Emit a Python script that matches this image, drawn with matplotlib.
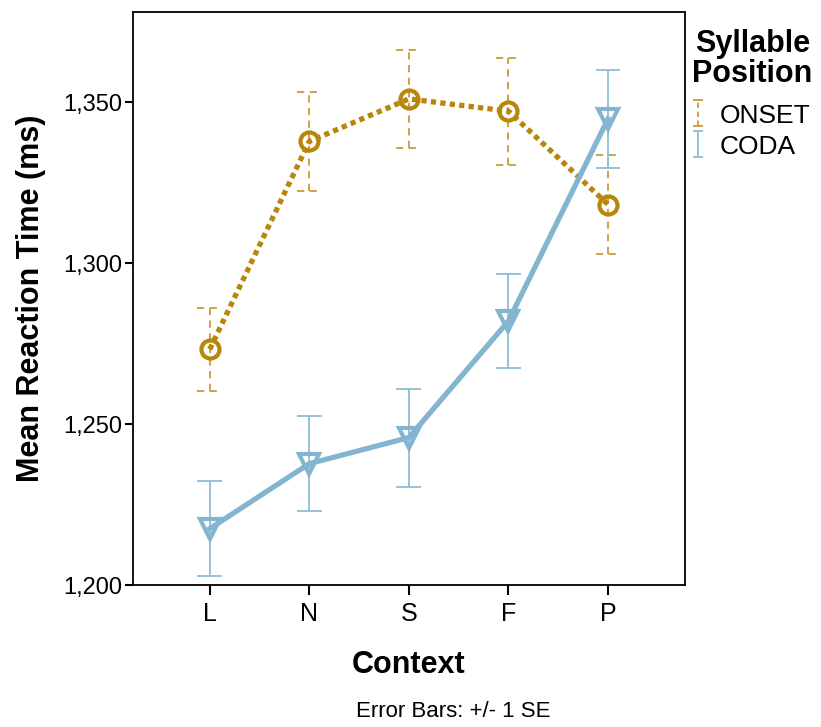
import numpy as np
import matplotlib
matplotlib.use("Agg")
import matplotlib.pyplot as plt

plt.rcParams['font.family'] = ['Liberation Sans', 'DejaVu Sans']

contexts = ["L", "N", "S", "F", "P"]
onset_mean = [1273.2, 1337.8, 1351.0, 1347.2, 1318.2]
onset_se = [12.9, 15.3, 15.3, 16.6, 15.3]
coda_mean = [1217.5, 1237.7, 1245.8, 1282.0, 1344.8]
coda_se = [14.8, 14.7, 15.2, 14.6, 15.3]

onset_col = "#b8860b"
onset_bar = "#c89a3a"
coda_col = "#84b5d0"
coda_bar = "#8fbdd6"
cap_half = 0.125  # half cap width, in category units

fig = plt.figure(figsize=(8.21, 7.27), dpi=100)
ax = fig.add_axes([0.162, 0.1953, 0.672, 0.7882])
x = np.arange(len(contexts))
om = np.array(onset_mean)
os_ = np.array(onset_se)
cm = np.array(coda_mean)
cs = np.array(coda_se)

# error bars (under the lines)
dash = (0, (4, 3))
ax.vlines(x, om - os_, om + os_, colors=onset_bar, lw=1.3, linestyles=[dash], zorder=2)
ax.hlines(np.r_[om - os_, om + os_], np.r_[x, x] - cap_half, np.r_[x, x] + cap_half,
          colors=onset_bar, lw=1.3, linestyles=[dash], zorder=2)
ax.vlines(x, cm - cs, cm + cs, colors=coda_bar, lw=1.3, zorder=2)
ax.hlines(np.r_[cm - cs, cm + cs], np.r_[x, x] - cap_half, np.r_[x, x] + cap_half,
          colors=coda_bar, lw=1.3, zorder=2)

# means
ax.plot(x, onset_mean, color=onset_col, lw=3.8, ls=(0, (1, 0.8)),
        marker='o', ms=13, mfc='none', mec=onset_col, mew=3, zorder=3)
ax.plot(x, coda_mean, color=coda_col, lw=3.8, ls='-',
        marker='v', ms=15, mfc='none', mec=coda_col, mew=3, zorder=3)

# legend proxies (nan data -> nothing drawn)
p_on = ax.errorbar([np.nan], [np.nan], yerr=[1], fmt='none', ecolor=onset_bar,
                   elinewidth=1.3, capsize=3.5, capthick=1.3)
p_on[2][0].set_linestyle((0, (3, 2)))
p_co = ax.errorbar([np.nan], [np.nan], yerr=[1], fmt='none', ecolor=coda_bar,
                   elinewidth=1.3, capsize=3.5, capthick=1.3)

ax.set_xlim(-0.77, 4.77)
ax.set_ylim(1200, 1378)
ax.set_xticks(x)
ax.set_xticklabels(contexts)
ax.set_yticks([1200, 1250, 1300, 1350])
ax.set_yticklabels(["1,200", "1,250", "1,300", "1,350"])
ax.tick_params(axis='x', labelsize=18, width=1.5, length=7, pad=5)
ax.tick_params(axis='y', labelsize=17, width=1.5, length=6, pad=2)
for s in ax.spines.values():
    s.set_linewidth(1.3)

ax.set_xlabel("Context", fontsize=22, fontweight='bold')
ax.xaxis.set_label_coords(0.5, -0.113)
ax.set_ylabel("Mean Reaction Time (ms)", fontsize=22, fontweight='bold')
ax.yaxis.set_label_coords(-0.158, 0.5)

leg = ax.legend([p_on, p_co], ["ONSET", "CODA"], loc='upper left',
                bbox_to_anchor=(0.99, 0.994), frameon=False, fontsize=19,
                title="Syllable\nPosition", handlelength=0.45, handletextpad=0.6,
                borderaxespad=0.1, labelspacing=0.2, handleheight=1.0)
leg.get_title().set_fontsize(22)
leg.get_title().set_fontweight('bold')
leg.get_title().set_linespacing(1.0)
leg.get_title().set_multialignment('center')
leg._legend_box.align = "left"
leg._legend_box.sep = 10

fig.text(0.552, 0.022, "Error Bars: +/- 1 SE", ha='center', va='center', fontsize=16)

fig.savefig("out.png", dpi=100)
